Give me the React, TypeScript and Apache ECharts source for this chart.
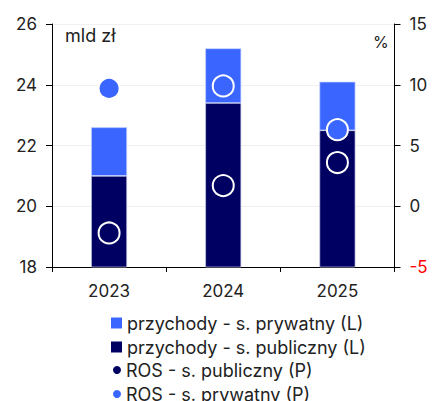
import React, { useEffect, useRef } from "react";
import * as echarts from "echarts";

const categories = ["2023", "2024", "2025"];
const revenuePublic = [21.0, 23.4, 22.5];
const revenuePrivate = [1.6, 1.8, 1.6];
const rosPublic = [-2.2, 1.7, 3.6];
const rosPrivate = [9.7, 9.9, 6.3];
const leftTicks = [18, 20, 22, 24, 26];
const rightTicks = [-5, 0, 5, 10, 15];

const NAVY = "#000062";
const BLUE = "#3a66ff";
const FONT = "Inter, 'Noto Sans', sans-serif";
const H = 430;

export default function App() {
  const ref = useRef<HTMLDivElement>(null);
  useEffect(() => {
    const chart = echarts.init(ref.current!, null, { renderer: "svg" });
    chart.setOption({
      animation: false,
      textStyle: { fontFamily: FONT },
      grid: { left: 52, right: 41.5, top: 24, bottom: H - 267 },
      xAxis: {
        type: "category",
        data: categories,
        axisLine: { onZero: false, lineStyle: { color: "#000" } },
        axisTick: { show: true, length: 5, lineStyle: { color: "#000" } },
        axisLabel: { color: "#222", fontSize: 17, margin: 15, fontFamily: FONT },
      },
      yAxis: [
        {
          type: "value",
          min: leftTicks[0],
          max: leftTicks[leftTicks.length - 1],
          interval: 2,
          axisLine: { show: true, lineStyle: { color: "#000" } },
          axisTick: { show: true, length: 6, lineStyle: { color: "#000" } },
          axisLabel: { color: "#222", fontSize: 17, margin: 15, fontFamily: FONT },
          splitLine: { show: true, lineStyle: { color: "#f0f0f0", width: 1 } },
        },
        {
          type: "value",
          position: "right",
          min: rightTicks[0],
          max: rightTicks[rightTicks.length - 1],
          interval: 5,
          axisLine: { show: true, lineStyle: { color: "#000" } },
          axisTick: { show: true, length: 6, lineStyle: { color: "#000" } },
          axisLabel: {
            fontSize: 17,
            margin: 15,
            fontFamily: FONT,
            color: (v: any) => (Number(v) < 0 ? "#ff0000" : "#222"),
          },
          splitLine: { show: false },
        },
      ],
      graphic: [
        { type: "text", left: 65, top: 26, style: { text: "mld zł", fontSize: 18, fill: "#222", fontFamily: FONT } },
        { type: "text", left: 373, top: 34, style: { text: "%", fontSize: 16, fill: "#222", fontFamily: FONT } },
      ],
      legend: [
        {
          orient: "vertical",
          left: 111,
          top: 314,
          padding: 0,
          itemWidth: 11,
          itemHeight: 11,
          itemGap: 6,
          icon: "rect",
          textStyle: { fontSize: 18, lineHeight: 18, color: "#222", fontFamily: FONT },
          itemStyle: { borderWidth: 0 },
          data: ["przychody - s. prywatny (L)", "przychody - s. publiczny (L)"],
        },
        {
          orient: "vertical",
          left: 113,
          top: 361,
          padding: 0,
          itemWidth: 8,
          itemHeight: 8,
          itemGap: 6,
          icon: "circle",
          textStyle: { fontSize: 18, lineHeight: 18, color: "#222", fontFamily: FONT },
          itemStyle: { borderWidth: 0 },
          data: ["ROS - s. publiczny (P)", "ROS - s. prywatny (P)"],
        },
      ],
      series: [
        {
          name: "przychody - s. publiczny (L)",
          type: "bar",
          stack: "rev",
          data: revenuePublic,
          barWidth: 36,
          itemStyle: { color: NAVY, borderColor: "#c8cce8", borderWidth: 0.7 },
        },
        {
          name: "przychody - s. prywatny (L)",
          type: "bar",
          stack: "rev",
          data: revenuePrivate,
          barWidth: 36,
          itemStyle: { color: BLUE, borderColor: "#c8d4ff", borderWidth: 0.7 },
        },
        {
          name: "ROS - s. publiczny (P)",
          type: "scatter",
          yAxisIndex: 1,
          data: rosPublic,
          symbolSize: 21,
          itemStyle: { color: NAVY, borderColor: "#fff", borderWidth: 2, opacity: 1 },
          z: 5,
        },
        {
          name: "ROS - s. prywatny (P)",
          type: "scatter",
          yAxisIndex: 1,
          data: rosPrivate,
          symbolSize: 21,
          itemStyle: { color: BLUE, borderColor: "#fff", borderWidth: 2, opacity: 1 },
          z: 5,
        },
      ],
    });
    return () => chart.dispose();
  }, []);
  return <div ref={ref} style={{ width: 436, height: H, position: "absolute", left: 0, top: 0 }} />;
}
